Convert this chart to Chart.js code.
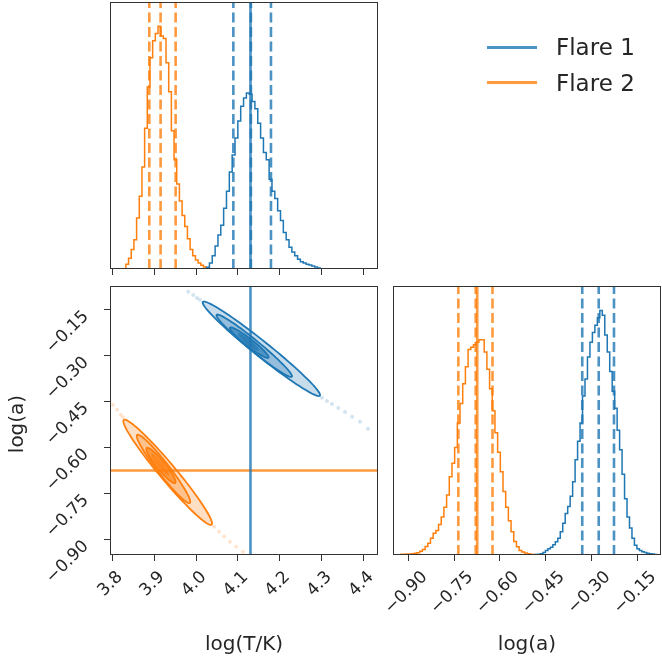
<!DOCTYPE html>
<html>
<head>
<meta charset="utf-8">
<script src="https://cdn.jsdelivr.net/npm/chart.js"></script>
<style>
  body { margin: 0; background: #fff; }
  #wrap { position: relative; width: 662px; height: 666px; overflow: hidden; }
  #wrap canvas { position: absolute; left: 0; top: 0; }
  #legend { position: absolute; left: 0; top: 0; font-family: "DejaVu Sans", sans-serif; color: #262626; }
  .lg-line { position: absolute; width: 50px; height: 3px; }
  .lg-text { position: absolute; font-size: 23px; line-height: 26px; white-space: nowrap; }
</style>
</head>
<body>
<div id="wrap">
  <canvas id="histT" width="662" height="666"></canvas>
  <canvas id="corner2d" width="662" height="666"></canvas>
  <canvas id="histA" width="662" height="666"></canvas>
  <div id="legend"></div>
</div>
<script>
// ---- data ----
const seriesNames = ['Flare 1', 'Flare 2'];

// log(T/K) step histograms (bin start, bin width, counts)
const tBinStart = [4.025, 3.832];
const tBinWidth = [0.0068, 0.0064];
const tCountsFlare1 = [0.7, 2.5, 5.5, 9.5, 14, 18, 25, 32, 40, 47, 54, 61, 67, 70.5, 72.5, 72, 69, 66, 60, 54,
                       48, 45, 37, 32, 29, 24, 20, 15, 12, 9, 7, 5.5, 4, 3, 2.5, 2, 1.6, 1.2, 0.8, 0.4];
const tCountsFlare2 = [2, 4.4, 8, 12, 21, 30, 42, 58, 75, 87, 94, 97, 100, 96, 95, 85, 73, 57, 45, 35,
                       28, 22, 17.5, 12.5, 8, 5.5, 3.7, 2.5, 1.5, 0.8];
const tQuantilesFlare1 = [4.089, 4.131, 4.179];
const tQuantilesFlare2 = [3.888, 3.915, 3.951];

// log(a) step histograms
const aBinStart = [-0.483, -0.924];
const aBinWidth = [0.0081, 0.0088];
const aCountsFlare1 = [0.2, 0.3, 0.5, 1, 1.8, 2.6, 3.2, 4.2, 5.4, 6.8, 9.5, 13, 17, 19.8, 24, 30, 39, 46.5, 54, 65,
                       72, 81, 87, 91, 94, 97, 100, 98, 90, 83, 75, 67, 60, 51, 43, 33, 23, 15.5, 11, 6.8,
                       4, 2.6, 1.8, 1.3, 1, 0.7, 0.5, 0.4, 0.2, 0.1];
const aCountsFlare2 = [0.3, 0.3, 0.4, 0.4, 0.5, 0.7, 0.9, 1.5, 2.3, 3.5, 4.8, 6.8, 8.9, 10, 12.5, 15.5, 19.5, 24.5, 32, 37.5,
                       44, 54, 62, 70, 77, 84, 85, 86, 87, 88, 88, 83, 76, 68, 59, 50, 42, 34, 26, 19.5,
                       14, 9.5, 5.5, 3.4, 1.8, 1.2, 0.8, 0.5, 0.3, 0.2];
const aQuantilesFlare1 = [-0.330, -0.276, -0.226];
const aQuantilesFlare2 = [-0.736, -0.679, -0.624];

// reference values (solid lines)
const truthT = 4.13;    // Flare 1
const truthA = -0.674;  // Flare 2

// axes
const tRange = [3.794, 4.435];
const aRange = [-0.95, -0.072];
const tTicks = [3.8, 3.9, 4.0, 4.1, 4.2, 4.3, 4.4];
const aTicks = [-0.90, -0.75, -0.60, -0.45, -0.30, -0.15];

// 2D contours, outer -> inner: centre, tip of long axis, half width vector
const contourCenterT1 = [4.156, 4.139, 4.127, 4.125];
const contourCenterA1 = [-0.277, -0.267, -0.257, -0.255];
const contourTipT1 = [4.296, 4.229, 4.173, 4.150];
const contourTipA1 = [-0.430, -0.368, -0.306, -0.283];
const contourWidthT1 = [0.0113, 0.0080, 0.0056, 0.0040];
const contourWidthA1 = [0.0192, 0.0136, 0.0095, 0.0067];

const contourCenterT2 = [3.932, 3.922, 3.916, 3.914];
const contourCenterA2 = [-0.680, -0.669, -0.658, -0.655];
const contourTipT2 = [4.037, 3.985, 3.950, 3.935];
const contourTipA2 = [-0.851, -0.780, -0.715, -0.690];
const contourWidthT2 = [0.0150, 0.0108, 0.0077, 0.0050];
const contourWidthA2 = [0.0170, 0.0123, 0.0087, 0.0057];

// samples outside the outer contour
const dotsT1 = [3.981, 3.993, 4.002, 4.009, 4.301, 4.313, 4.325, 4.340, 4.356, 4.373, 4.392, 4.411];
const dotsA1 = [-0.091, -0.101, -0.111, -0.117, -0.437, -0.447, -0.457, -0.470, -0.483, -0.499, -0.515, -0.538];
const dotsT2 = [3.801, 3.811, 3.820, 3.825, 4.043, 4.055, 4.067, 4.081, 4.096, 4.112];
const dotsA2 = [-0.460, -0.476, -0.492, -0.500, -0.858, -0.874, -0.890, -0.907, -0.923, -0.939];

// ---- styles ----
const colors = ['#1f77b4', '#ff7f0e'];
const frameColor = '#333333';
const textColor = '#262626';
const tickSize = 17;
const levelAlpha = [0.25, 0.3, 0.6, 0.7];

Chart.defaults.font.family = '"DejaVu Sans", sans-serif';

function rgba(hex, a) {
    const n = parseInt(hex.slice(1), 16);
    return `rgba(${(n >> 16) & 255},${(n >> 8) & 255},${n & 255},${a})`;
}

function histOutline(start, width, counts) {
    const pts = [{ x: start, y: 0 }];
    counts.forEach((c, i) => {
        pts.push({ x: start + i * width, y: c });
        pts.push({ x: start + (i + 1) * width, y: c });
    });
    pts.push({ x: start + counts.length * width, y: 0 });
    return pts;
}

function lineSet(pts, color, width, dash) {
    return {
        data: pts, showLine: true, borderColor: color, borderWidth: width,
        borderDash: dash || [], pointRadius: 0, fill: false, tension: 0
    };
}

const fmtT = v => v.toFixed(1);
const fmtA = v => v.toFixed(2).replace('-', '\u2212');

function xAxis(range, ticks) {
    return {
        type: 'linear', position: 'bottom', min: range[0], max: range[1],
        afterBuildTicks: s => { s.ticks = ticks.map(v => ({ value: v })); },
        afterFit: s => { s.height = 6; s.paddingLeft = 0; s.paddingRight = 0; },
        ticks: { display: false },
        grid: { drawOnChartArea: false, drawTicks: true, tickLength: 6, color: frameColor, lineWidth: 1 },
        border: { display: false }
    };
}

function yAxis(range, ticks) {
    return {
        type: 'linear', position: 'left', min: range[0], max: range[1],
        afterBuildTicks: s => { s.ticks = ticks.map(v => ({ value: v })); },
        afterFit: s => { s.width = 6; s.paddingTop = 0; s.paddingBottom = 0; },
        ticks: { display: false },
        grid: { drawOnChartArea: false, drawTicks: true, tickLength: 6, color: frameColor, lineWidth: 1 },
        border: { display: false }
    };
}

// frame + rotated tick labels + axis titles
const axisText = {
    id: 'axisText',
    afterDraw(chart, args, opts) {
        const { ctx, chartArea: area } = chart;
        ctx.save();
        ctx.strokeStyle = frameColor;
        ctx.lineWidth = 1;
        ctx.strokeRect(Math.round(area.left) + 0.5, Math.round(area.top) + 0.5,
            Math.round(area.width) - 1, Math.round(area.height) - 1);

        ctx.fillStyle = textColor;
        ctx.font = `${tickSize}px "DejaVu Sans"`;
        if (opts.xFormat) {
            const s = chart.scales.x;
            s.ticks.forEach(t => {
                const txt = opts.xFormat(t.value);
                const w = ctx.measureText(txt).width;
                const box = (w + 0.73 * tickSize) * Math.SQRT1_2;
                ctx.save();
                ctx.translate(s.getPixelForValue(t.value) - 2, area.bottom + 15 + box / 2);
                ctx.rotate(-Math.PI / 4);
                ctx.textAlign = 'center';
                ctx.textBaseline = 'middle';
                ctx.fillText(txt, 0, 0);
                ctx.restore();
            });
        }
        if (opts.yFormat) {
            const s = chart.scales.y;
            s.ticks.forEach(t => {
                ctx.save();
                ctx.translate(area.left - 24, s.getPixelForValue(t.value) + 4);
                ctx.rotate(-Math.PI / 4);
                ctx.textAlign = 'right';
                ctx.textBaseline = 'middle';
                ctx.fillText(opts.yFormat(t.value), 0, 0);
                ctx.restore();
            });
        }
        ctx.font = '20px "DejaVu Sans"';
        ctx.textAlign = 'center';
        ctx.textBaseline = 'middle';
        if (opts.xTitle) {
            ctx.fillText(opts.xTitle, (area.left + area.right) / 2, 645);
        }
        if (opts.yTitle) {
            ctx.save();
            ctx.translate(18, (area.top + area.bottom) / 2 + 3.5);
            ctx.rotate(-Math.PI / 2);
            ctx.fillText(opts.yTitle, 0, 0);
            ctx.restore();
        }
        ctx.restore();
    }
};

// filled contour ellipses, from centre / tip / width values through the scales
const contours = {
    id: 'contours',
    beforeDatasetsDraw(chart, args, opts) {
        const { ctx, chartArea: area, scales: { x, y } } = chart;
        ctx.save();
        ctx.beginPath();
        ctx.rect(area.left, area.top, area.width, area.height);
        ctx.clip();
        opts.sets.forEach(set => {
            set.cT.forEach((cT, i) => {
                const cA = set.cA[i];
                const cx = x.getPixelForValue(cT), cy = y.getPixelForValue(cA);
                const ux = x.getPixelForValue(set.tipT[i]) - cx, uy = y.getPixelForValue(set.tipA[i]) - cy;
                const vx = x.getPixelForValue(cT + set.wT[i]) - cx, vy = y.getPixelForValue(cA + set.wA[i]) - cy;
                ctx.beginPath();
                for (let k = 0; k <= 96; k++) {
                    const a = k / 96 * Math.PI * 2;
                    const px = cx + Math.cos(a) * ux + Math.sin(a) * vx;
                    const py = cy + Math.cos(a) * uy + Math.sin(a) * vy;
                    if (k === 0) ctx.moveTo(px, py); else ctx.lineTo(px, py);
                }
                ctx.closePath();
                ctx.fillStyle = rgba(set.color, levelAlpha[i]);
                ctx.fill();
                if (i < 3) {
                    ctx.strokeStyle = set.color;
                    ctx.lineWidth = 1.8;
                    ctx.stroke();
                }
            });
        });
        ctx.restore();
    }
};

const baseOptions = {
    responsive: false,
    animation: false,
    devicePixelRatio: 1,
    events: [],
};

// ---- top-left: log(T/K) histograms ----
const yMaxT = 1.1 * Math.max(...tCountsFlare1, ...tCountsFlare2);
const tCounts = [tCountsFlare1, tCountsFlare2];
const tQuant = [tQuantilesFlare1, tQuantilesFlare2];
const histTSets = [];
tQuant.forEach((qs, s) => qs.forEach(q =>
    histTSets.push(lineSet([{ x: q, y: 0 }, { x: q, y: yMaxT }], rgba(colors[s], 0.8), 2.6, [10, 4.5]))));
histTSets.push(lineSet([{ x: truthT, y: 0 }, { x: truthT, y: yMaxT }], rgba(colors[0], 0.8), 2.6));
tCounts.forEach((c, s) => histTSets.push(lineSet(histOutline(tBinStart[s], tBinWidth[s], c), colors[s], 1.5)));

new Chart(document.getElementById('histT'), {
    type: 'scatter',
    data: { datasets: histTSets },
    options: {
        ...baseOptions,
        layout: { padding: { left: 110, right: 284, top: 2, bottom: 391 } },
        plugins: { legend: { display: false }, tooltip: { enabled: false }, axisText: {} },
        scales: { x: xAxis(tRange, tTicks), y: { display: false, min: 0, max: yMaxT } }
    },
    plugins: [axisText]
});

// ---- bottom-left: 2D panel ----
const cornerSets = [
    lineSet([{ x: truthT, y: aRange[0] }, { x: truthT, y: aRange[1] }], rgba(colors[0], 0.8), 2.6),
    lineSet([{ x: tRange[0], y: truthA }, { x: tRange[1], y: truthA }], rgba(colors[1], 0.8), 2.6),
    {
        data: dotsT1.map((t, i) => ({ x: t, y: dotsA1[i] })),
        pointRadius: 2, borderWidth: 0, backgroundColor: rgba(colors[0], 0.2)
    },
    {
        data: dotsT2.map((t, i) => ({ x: t, y: dotsA2[i] })),
        pointRadius: 2, borderWidth: 0, backgroundColor: rgba(colors[1], 0.2)
    }
];

new Chart(document.getElementById('corner2d'), {
    type: 'scatter',
    data: { datasets: cornerSets },
    options: {
        ...baseOptions,
        layout: { padding: { left: 104, right: 284, top: 286, bottom: 105 } },
        plugins: {
            legend: { display: false }, tooltip: { enabled: false },
            axisText: { xFormat: fmtT, yFormat: fmtA, xTitle: 'log(T/K)', yTitle: 'log(a)' },
            contours: {
                sets: [
                    { color: colors[0], cT: contourCenterT1, cA: contourCenterA1, tipT: contourTipT1, tipA: contourTipA1, wT: contourWidthT1, wA: contourWidthA1 },
                    { color: colors[1], cT: contourCenterT2, cA: contourCenterA2, tipT: contourTipT2, tipA: contourTipA2, wT: contourWidthT2, wA: contourWidthA2 }
                ]
            }
        },
        scales: { x: xAxis(tRange, tTicks), y: yAxis(aRange, aTicks) }
    },
    plugins: [contours, axisText]
});

// ---- bottom-right: log(a) histograms ----
const yMaxA = 1.1 * Math.max(...aCountsFlare1, ...aCountsFlare2);
const aCounts = [aCountsFlare1, aCountsFlare2];
const aQuant = [aQuantilesFlare1, aQuantilesFlare2];
const histASets = [];
aQuant.forEach((qs, s) => qs.forEach(q =>
    histASets.push(lineSet([{ x: q, y: 0 }, { x: q, y: yMaxA }], rgba(colors[s], 0.8), 2.6, [10, 4.5]))));
histASets.push(lineSet([{ x: truthA, y: 0 }, { x: truthA, y: yMaxA }], rgba(colors[1], 0.8), 2.6));
aCounts.forEach((c, s) => histASets.push(lineSet(histOutline(aBinStart[s], aBinWidth[s], c), colors[s], 1.5)));

new Chart(document.getElementById('histA'), {
    type: 'scatter',
    data: { datasets: histASets },
    options: {
        ...baseOptions,
        layout: { padding: { left: 393, right: 1, top: 286, bottom: 105 } },
        plugins: {
            legend: { display: false }, tooltip: { enabled: false },
            axisText: { xFormat: fmtA, xTitle: 'log(a)' }
        },
        scales: { x: xAxis(aRange, aTicks), y: { display: false, min: 0, max: yMaxA } }
    },
    plugins: [axisText]
});

// ---- legend ----
const legendEl = document.getElementById('legend');
seriesNames.forEach((name, i) => {
    const cy = 47 + i * 35.5;
    const line = document.createElement('div');
    line.className = 'lg-line';
    line.style.left = '487px';
    line.style.top = (cy - 1.5) + 'px';
    line.style.background = rgba(colors[i], 0.8);
    const label = document.createElement('div');
    label.className = 'lg-text';
    label.style.left = '556px';
    label.style.top = (cy - 13) + 'px';
    label.textContent = name;
    legendEl.appendChild(line);
    legendEl.appendChild(label);
});
</script>
</body>
</html>
